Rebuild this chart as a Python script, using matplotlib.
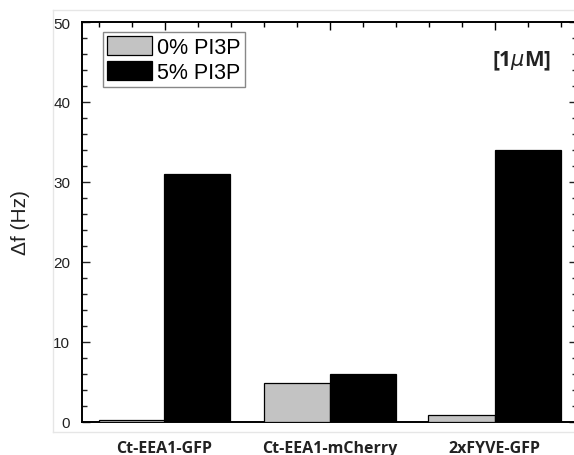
import numpy as np
import matplotlib
matplotlib.use("Agg")
import matplotlib.pyplot as plt
from matplotlib.ticker import MultipleLocator
from matplotlib.lines import Line2D

# datos
proteinas = ["Ct-EEA1-GFP", "Ct-EEA1-mCherry", "2xFYVE-GFP"]
pi3p_0 = [0.25, 4.85, 0.9]
pi3p_5 = [31.0, 6.0, 34.0]
series = ["0% PI3P", "5% PI3P"]

plt.rcParams["font.family"] = ["Liberation Sans", "DejaVu Sans"]

fig = plt.figure(figsize=(5.74, 4.56), dpi=100)
ax = fig.add_axes([82 / 574, 33 / 456, 495 / 574, 400 / 456])

x = np.arange(1, len(proteinas) + 1)
w = 0.4
ax.bar(x - w / 2, pi3p_0, width=w, color="#c3c3c3", edgecolor="black", linewidth=0.9, label=series[0], zorder=3)
ax.bar(x + w / 2, pi3p_5, width=w, color="black", edgecolor="black", linewidth=0.9, label=series[1], zorder=3)

ax.set_xlim(0.5, 3.5)
ax.set_ylim(0, 50)
ax.set_xticks(x)
ax.set_xticklabels(proteinas, family="Open Sans", fontweight="bold", fontsize=11.5, color="#222222")
ax.xaxis.set_minor_locator(MultipleLocator(0.2))
ax.yaxis.set_major_locator(MultipleLocator(10))
ax.yaxis.set_minor_locator(MultipleLocator(2))

ax.tick_params(axis="x", which="both", direction="in", bottom=False, top=True, pad=13)
ax.tick_params(axis="y", which="both", direction="in", left=True, right=True, labelsize=11, pad=8.5, colors="#222222")
ax.tick_params(which="major", length=6, width=1)
ax.tick_params(which="minor", length=3.5, width=1)
ax.tick_params(axis="x", which="both", bottom=False)

for s in ax.spines.values():
    s.set_linewidth(1.4)

ax.set_ylabel("Δf (Hz)", fontsize=15, color="#222222")
ax.yaxis.set_label_coords(-0.105, 0.5)

ax.text(0.889, 0.903, "[1$\\mu$M]", transform=ax.transAxes, ha="center", va="center",
        family="Open Sans", fontweight="bold", fontsize=15, color="#222222")

leg = ax.legend(loc="upper left", bbox_to_anchor=(0.042, 0.975), borderaxespad=0,
                fontsize=15.5, handlelength=2.1, handleheight=1.0, labelspacing=0.15,
                handletextpad=0.25, borderpad=0.18, fancybox=False, framealpha=1)
leg.get_frame().set_edgecolor("#888888")
leg.get_frame().set_linewidth(1)

# bordes claros de la imagen original
c = "#e6e6e6"
fig.add_artist(Line2D([53 / 574, 1], [1 - 11 / 456] * 2, color=c, lw=1, transform=fig.transFigure))
fig.add_artist(Line2D([53 / 574, 53 / 574], [1 - 11 / 456, 1 - 433 / 456], color=c, lw=1, transform=fig.transFigure))
fig.add_artist(Line2D([53 / 574, 1], [1 - 433 / 456] * 2, color=c, lw=1, transform=fig.transFigure))

fig.savefig("out.png", dpi=100)
